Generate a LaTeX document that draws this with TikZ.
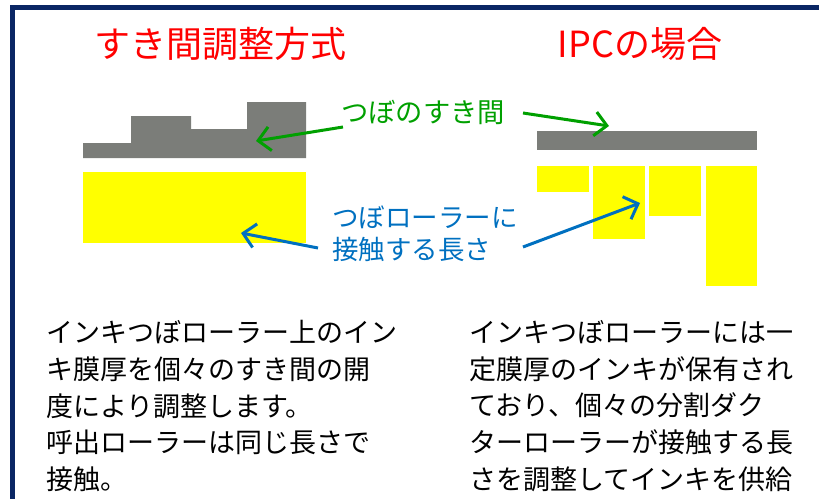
\documentclass[tikz,border=0pt]{standalone}
\usepackage{fontspec}
\setmainfont{Noto Sans CJK JP}
\usetikzlibrary{arrows.meta}
\definecolor{navy}{RGB}{10,38,100}
\definecolor{ttlred}{RGB}{255,0,0}
\definecolor{grn}{RGB}{0,160,0}
\definecolor{blu}{RGB}{0,112,192}
\definecolor{gry}{RGB}{123,125,121}
\definecolor{ylw}{RGB}{255,255,0}
\begin{document}
\begin{tikzpicture}[x=1pt,y=-1pt,
  title/.style={text=ttlred,font=\fontsize{36}{40}\selectfont,inner sep=0pt},
  lbl/.style={font=\fontsize{26.5}{32}\selectfont,inner sep=0pt},
  body/.style={font=\fontsize{27}{36.8}\selectfont,inner sep=0pt,align=left},
  arr/.style={line width=3pt,-{Straight Barb[length=12pt,width=24pt,line width=3pt]}},
  garrow/.style={arr,draw=grn},
  barrow/.style={arr,draw=blu}]
\useasboundingbox (0,0) rectangle (819,498);
\clip (0,0) rectangle (819,498);
\draw[navy,line width=5pt] (12.5,7.5) rectangle (850,530);
% titles
\node[title] (t1) at (220,44) {すき間調整方式};
\node[title] (t2) at (640,44) {IPCの場合};
% left diagram
\fill[gry] (83,158) -- (83,143) -- (131,143) -- (131,116) -- (191,116) -- (191,129)
  -- (247,129) -- (247,102) -- (306,102) -- (306,158) -- cycle;
\fill[ylw] (83,172) rectangle (306,243);
% right diagram
\fill[gry] (537,131) rectangle (757,150);
\fill[ylw] (537,166) rectangle (589,192);
\fill[ylw] (593,166) rectangle (645,239);
\fill[ylw] (649,166) rectangle (701,216);
\fill[ylw] (706,166) rectangle (757,286);
% labels
\node[lbl,text=grn,anchor=west,font=\fontsize{27.3}{32}\selectfont] (gap) at (341,112) {つぼのすき間};
\node[lbl,text=blu,align=left,anchor=north west] (len) at (332,206) {つぼローラーに\\接触する長さ};
% arrows
\coordinate (g1s) at (343,127);
\coordinate (g1e) at (256,141);
\coordinate (g2s) at (523,113);
\coordinate (g2e) at (609,126);
\coordinate (b1s) at (318,248);
\coordinate (b1e) at (241,233);
\coordinate (b2s) at (523,247);
\coordinate (b2e) at (640,203);
\draw[garrow] (g1s) -- (g1e);
\draw[garrow] (g2s) -- (g2e);
\draw[barrow] (b1s) -- (b1e);
\draw[barrow] (b2s) -- (b2e);
% body texts
\node[body,anchor=north west] (bl) at (46,320) {インキつぼローラー上のイン\\キ膜厚を個々のすき間の開\\度により調整します。\\呼出ローラーは同じ長さで\\接触。};
\node[body,anchor=north west] (br) at (469,320) {インキつぼローラーには一\\定膜厚のインキが保有され\\ており、個々の分割ダク\\ターローラーが接触する長\\さを調整してインキを供給};
\end{tikzpicture}
\end{document}
